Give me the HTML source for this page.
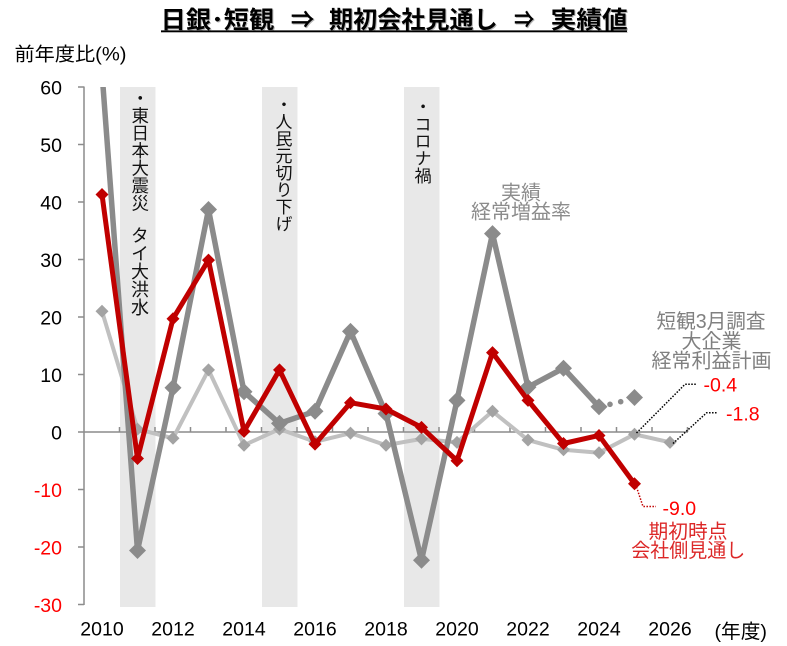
<!DOCTYPE html>
<html><head><meta charset="utf-8"><style>
html,body{margin:0;padding:0;background:#fff}
#c{position:relative;width:787px;height:646px;overflow:hidden;background:#fff}
svg{position:absolute;left:0;top:0}
.v{position:absolute;writing-mode:vertical-rl;text-orientation:mixed;font-family:"Noto Sans CJK JP","Liberation Sans",sans-serif;color:#111;white-space:nowrap}
</style></head><body><div id="c">
<svg width="787" height="646" viewBox="0 0 787 646" xmlns="http://www.w3.org/2000/svg">
<defs><clipPath id="pa"><rect x="84" y="87" width="606" height="520"/></clipPath></defs>
<!-- bands -->
<rect x="120" y="87" width="35.5" height="520" fill="#e8e8e8"/>
<rect x="262" y="87" width="35.5" height="520" fill="#e8e8e8"/>
<rect x="404" y="87" width="35.5" height="520" fill="#e8e8e8"/>
<!-- axes -->
<g stroke="#8c8c8c" stroke-width="1.5" fill="none">
<path d="M84 86.5V605"/>
<path d="M78 87H84M78 144.5H84M78 202H84M78 259.5H84M78 317H84M78 374.5H84M78 489.5H84M78 547H84M78 604.5H84"/>
<path d="M78 432H688"/>
<path d="M119.5 427V432M155 427V432M190.5 427V432M226 427V432M261.5 427V432M297 427V432M332.5 427V432M368 427V432M403.5 427V432M439 427V432M474.5 427V432M510 427V432M545.5 427V432M581 427V432M616.5 427V432M652 427V432M687.5 427V432"/>
</g>
<!-- light gray series -->
<polyline fill="none" stroke="#c0c0c0" stroke-width="4" stroke-linejoin="round" points="102,311.25 137.5,429.1 173,438.3 208.5,369.9 244,445.2 279.5,429.1 315,441.8 350.5,433.15 386,445.2 421.5,438.9 457,442.35 492.5,411.3 528,440.05 563.5,449.8 599,452.7 634.5,434.3 670,442.35"/>
<path fill="#a3a3a3" d="M102 304.75l6.5 6.5-6.5 6.5-6.5-6.5zM137.5 422.6l6.5 6.5-6.5 6.5-6.5-6.5zM173 431.8l6.5 6.5-6.5 6.5-6.5-6.5zM208.5 363.4l6.5 6.5-6.5 6.5-6.5-6.5zM244 438.7l6.5 6.5-6.5 6.5-6.5-6.5zM279.5 422.6l6.5 6.5-6.5 6.5-6.5-6.5zM315 435.3l6.5 6.5-6.5 6.5-6.5-6.5zM350.5 426.65l6.5 6.5-6.5 6.5-6.5-6.5zM386 438.7l6.5 6.5-6.5 6.5-6.5-6.5zM421.5 432.4l6.5 6.5-6.5 6.5-6.5-6.5zM457 435.85l6.5 6.5-6.5 6.5-6.5-6.5zM492.5 404.8l6.5 6.5-6.5 6.5-6.5-6.5zM528 433.55l6.5 6.5-6.5 6.5-6.5-6.5zM563.5 443.3l6.5 6.5-6.5 6.5-6.5-6.5zM599 446.2l6.5 6.5-6.5 6.5-6.5-6.5zM634.5 427.8l6.5 6.5-6.5 6.5-6.5-6.5zM670 435.85l6.5 6.5-6.5 6.5-6.5-6.5z"/>
<!-- dark gray series -->
<g clip-path="url(#pa)">
<polyline fill="none" stroke="#8b8b8b" stroke-width="5.5" stroke-linejoin="round" points="102,72.6 137.5,550.5 173,387.7 208.5,209.5 244,391.75 279.5,423.4 315,411.3 350.5,331.4 386,413.6 421.5,560.2 457,400.4 492.5,233.6 528,387.15 563.5,368.2 599,406.7"/>
</g>
<path fill="#8b8b8b" d="M137.5 542l8.5 8.5-8.5 8.5-8.5-8.5zM173 379.2l8.5 8.5-8.5 8.5-8.5-8.5zM208.5 201l8.5 8.5-8.5 8.5-8.5-8.5zM244 383.25l8.5 8.5-8.5 8.5-8.5-8.5zM279.5 414.9l8.5 8.5-8.5 8.5-8.5-8.5zM315 402.8l8.5 8.5-8.5 8.5-8.5-8.5zM350.5 322.9l8.5 8.5-8.5 8.5-8.5-8.5zM386 405.1l8.5 8.5-8.5 8.5-8.5-8.5zM421.5 551.7l8.5 8.5-8.5 8.5-8.5-8.5zM457 391.9l8.5 8.5-8.5 8.5-8.5-8.5zM492.5 225.1l8.5 8.5-8.5 8.5-8.5-8.5zM528 378.65l8.5 8.5-8.5 8.5-8.5-8.5zM563.5 359.7l8.5 8.5-8.5 8.5-8.5-8.5zM599 398.2l8.5 8.5-8.5 8.5-8.5-8.5zM634.5 389l8.5 8.5-8.5 8.5-8.5-8.5z"/>
<circle cx="610" cy="404.3" r="2.8" fill="#8b8b8b"/>
<circle cx="620.7" cy="401.7" r="2.8" fill="#8b8b8b"/>
<!-- red series -->
<polyline fill="none" stroke="#c00000" stroke-width="5" stroke-linejoin="round" points="102,194.5 137.5,458.5 173,318.7 208.5,260.1 244,431.4 279.5,369.9 315,444.1 350.5,402.7 386,409 421.5,427.4 457,460.75 492.5,352.65 528,400.4 563.5,443.5 599,435.45 634.5,483.75"/>
<path fill="#c00000" d="M102 188l6.5 6.5-6.5 6.5-6.5-6.5zM137.5 452l6.5 6.5-6.5 6.5-6.5-6.5zM173 312.2l6.5 6.5-6.5 6.5-6.5-6.5zM208.5 253.6l6.5 6.5-6.5 6.5-6.5-6.5zM244 424.9l6.5 6.5-6.5 6.5-6.5-6.5zM279.5 363.4l6.5 6.5-6.5 6.5-6.5-6.5zM315 437.6l6.5 6.5-6.5 6.5-6.5-6.5zM350.5 396.2l6.5 6.5-6.5 6.5-6.5-6.5zM386 402.5l6.5 6.5-6.5 6.5-6.5-6.5zM421.5 420.9l6.5 6.5-6.5 6.5-6.5-6.5zM457 454.25l6.5 6.5-6.5 6.5-6.5-6.5zM492.5 346.15l6.5 6.5-6.5 6.5-6.5-6.5zM528 393.9l6.5 6.5-6.5 6.5-6.5-6.5zM563.5 437l6.5 6.5-6.5 6.5-6.5-6.5zM599 428.95l6.5 6.5-6.5 6.5-6.5-6.5zM634.5 477.25l6.5 6.5-6.5 6.5-6.5-6.5z"/>
<!-- annotation leaders -->
<g fill="none" stroke-width="1.5" stroke-dasharray="1.5 1.5">
<polyline stroke="#000" points="636.5,433 685,384.3 696,384.3"/>
<polyline stroke="#000" points="673,443.5 706.7,412.7 717,412.7"/>
<polyline stroke="#c00000" points="636.5,487 643,506.5 656,506.5"/>
</g>
<!-- title -->
<g font-family="'Liberation Sans','Noto Sans CJK JP',sans-serif" font-weight="bold" font-size="24">
<g fill="#b5b5b5" transform="translate(1,1)">
<text x="160.7" y="28" textLength="113.6" lengthAdjust="spacingAndGlyphs">日銀･短観</text>
<text x="290.7" y="28" textLength="23.6" lengthAdjust="spacingAndGlyphs" font-family="'Noto Sans CJK JP',sans-serif">⇒</text>
<text x="329" y="28" textLength="168.7" lengthAdjust="spacingAndGlyphs">期初会社見通し</text>
<text x="514" y="28" textLength="20.3" lengthAdjust="spacingAndGlyphs" font-family="'Noto Sans CJK JP',sans-serif">⇒</text>
<text x="550.7" y="28" textLength="77" lengthAdjust="spacingAndGlyphs">実績値</text>
</g>
<g fill="#000">
<text x="160.7" y="28" textLength="113.6" lengthAdjust="spacingAndGlyphs">日銀･短観</text>
<text x="290.7" y="28" textLength="23.6" lengthAdjust="spacingAndGlyphs" font-family="'Noto Sans CJK JP',sans-serif">⇒</text>
<text x="329" y="28" textLength="168.7" lengthAdjust="spacingAndGlyphs">期初会社見通し</text>
<text x="514" y="28" textLength="20.3" lengthAdjust="spacingAndGlyphs" font-family="'Noto Sans CJK JP',sans-serif">⇒</text>
<text x="550.7" y="28" textLength="77" lengthAdjust="spacingAndGlyphs">実績値</text>
</g>
</g>
<line x1="161" y1="32.3" x2="627.5" y2="32.3" stroke="#aaa" stroke-width="1.2"/>
<line x1="161" y1="31.2" x2="627" y2="31.2" stroke="#000" stroke-width="1.6"/>
<!-- y axis title -->
<text x="14.5" y="60.5" font-family="'Liberation Sans','Noto Sans CJK JP',sans-serif" font-size="19" fill="#000" textLength="112" lengthAdjust="spacingAndGlyphs">前年度比(%)</text>
<!-- y tick labels -->
<g font-family="'Liberation Sans',sans-serif" font-size="19.5" text-anchor="end">
<text x="62" y="94.5" fill="#000">60</text>
<text x="62" y="152" fill="#000">50</text>
<text x="62" y="209.5" fill="#000">40</text>
<text x="62" y="267" fill="#000">30</text>
<text x="62" y="324.5" fill="#000">20</text>
<text x="62" y="382" fill="#000">10</text>
<text x="62" y="439.3" fill="#000">0</text>
<text x="62" y="497" fill="#ff0000">-10</text>
<text x="62" y="554.5" fill="#ff0000">-20</text>
<text x="62" y="612" fill="#ff0000">-30</text>
</g>
<!-- x tick labels -->
<g font-family="'Liberation Sans',sans-serif" font-size="19.5" text-anchor="middle" fill="#000">
<text x="102" y="635.5">2010</text>
<text x="173" y="635.5">2012</text>
<text x="244" y="635.5">2014</text>
<text x="315" y="635.5">2016</text>
<text x="386" y="635.5">2018</text>
<text x="457" y="635.5">2020</text>
<text x="528" y="635.5">2022</text>
<text x="599" y="635.5">2024</text>
<text x="670" y="635.5">2026</text>
</g>
<text x="714.5" y="638" font-family="'Liberation Sans','Noto Sans CJK JP',sans-serif" font-size="19.5" fill="#000" textLength="52.5" lengthAdjust="spacingAndGlyphs">(年度)</text>
<!-- series labels -->
<g font-family="'Liberation Sans','Noto Sans CJK JP',sans-serif" font-size="20" text-anchor="middle">
<text x="521" y="199.5" fill="#8c8c8c">実績</text>
<text x="521" y="218.5" fill="#8c8c8c" textLength="100" lengthAdjust="spacingAndGlyphs">経常増益率</text>
<text x="711" y="328" fill="#808080" textLength="109" lengthAdjust="spacingAndGlyphs">短観3月調査</text>
<text x="711.5" y="348" fill="#808080">大企業</text>
<text x="711.5" y="367.5" fill="#808080" textLength="120" lengthAdjust="spacingAndGlyphs">経常利益計画</text>
<text x="688" y="538" fill="#dc2828" font-size="19.5" textLength="79" lengthAdjust="spacingAndGlyphs">期初時点</text>
<text x="688.3" y="557" fill="#dc2828" font-size="19.5" textLength="114" lengthAdjust="spacingAndGlyphs">会社側見通し</text>
</g>
<g font-family="'Liberation Sans',sans-serif" font-size="19.5" fill="#ff0000">
<text x="703.5" y="391.5">-0.4</text>
<text x="726" y="420.5">-1.8</text>
<text x="662.5" y="515">-9.0</text>
</g>
</svg>
<div class="v" style="left:131.25px;top:88.75px;font-size:17.5px;line-height:17.5px;">・東日本大震災</div>
<div class="v" style="left:131px;top:226px;font-size:18px;line-height:18px;">タイ大洪水</div>
<div class="v" style="left:275.5px;top:96px;font-size:17px;line-height:17px;">・人民元切り下げ</div>
<div class="v" style="left:414.4px;top:97.5px;font-size:17.2px;line-height:17.2px;">・コロナ禍</div>
</div></body></html>
